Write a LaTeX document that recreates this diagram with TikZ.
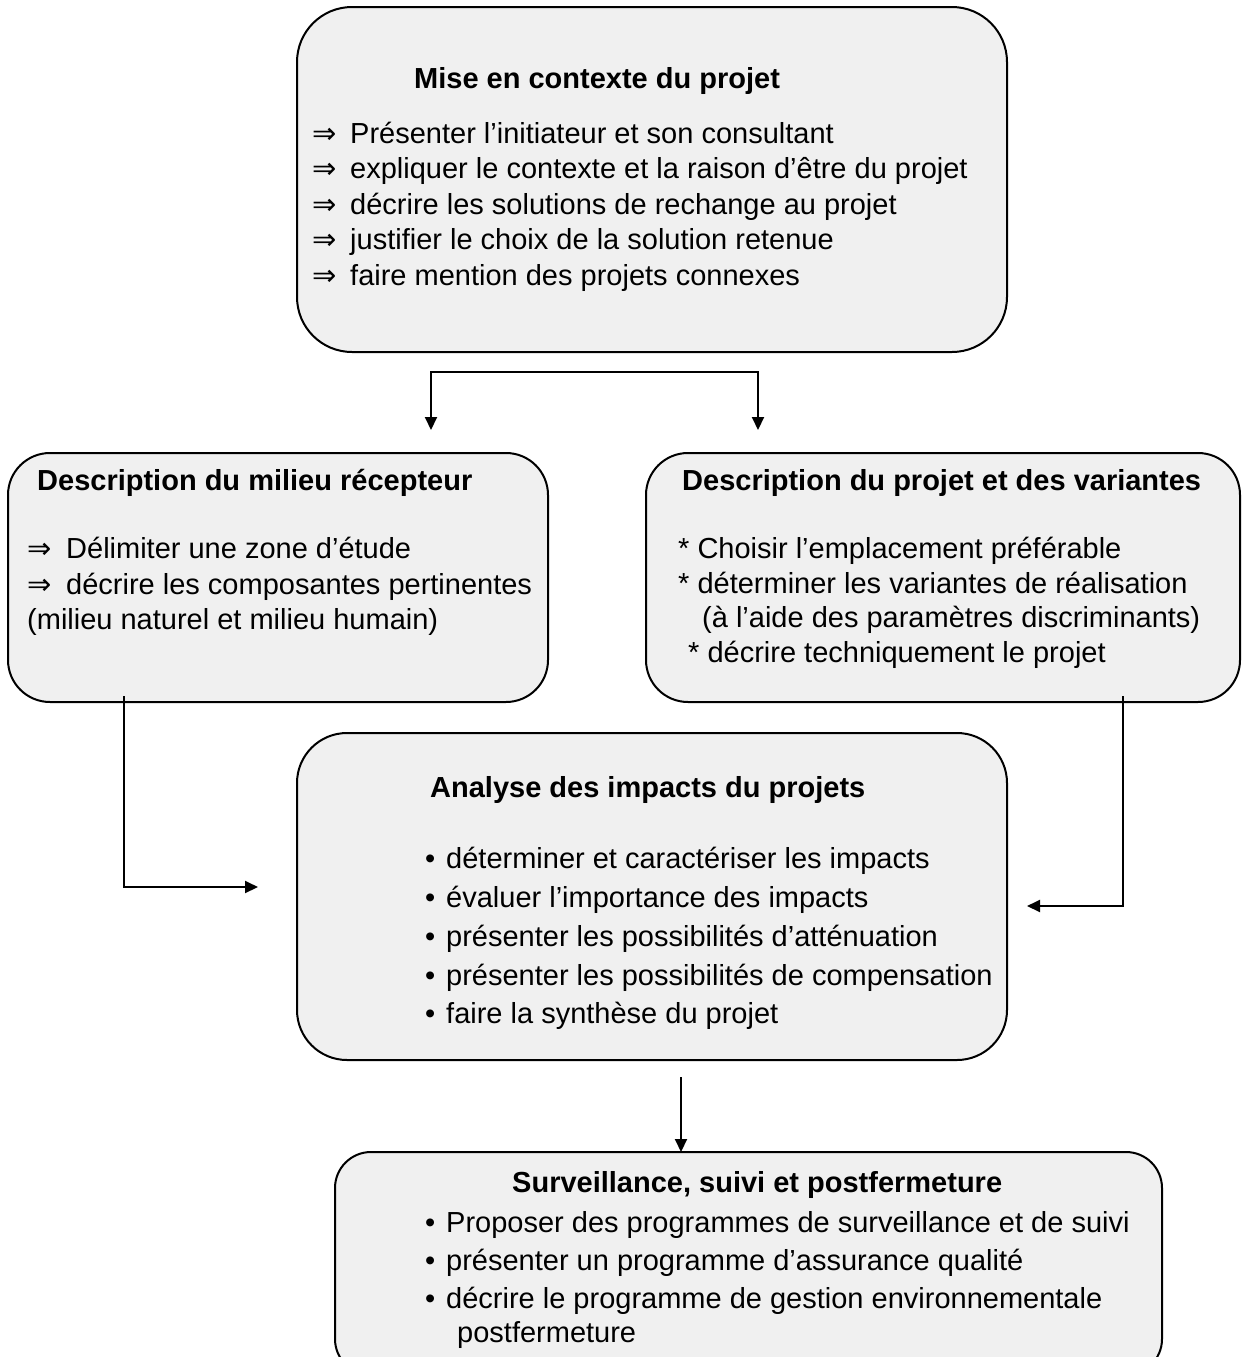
\documentclass[tikz,border=0pt]{standalone}
\usepackage{fontspec}
\setmainfont{Liberation Sans}
\newfontfamily\symfont{DejaVu Sans}
\usetikzlibrary{arrows.meta}
\definecolor{boxgray}{RGB}{240,240,240}
\newcommand{\darr}[1]{\makebox[#1][l]{{\symfont ⇒}}}
\newcommand{\bul}{\makebox[21pt][l]{\textbullet}}
\begin{document}
\begin{tikzpicture}[x=1pt,y=-1pt,
  box/.style={draw=black, line width=2pt, fill=boxgray, rounded corners=#1, inner sep=0pt, outer sep=0pt},
  txt/.style={anchor=base west, inner sep=0pt, font=\fontsize{29}{36}\selectfont},
  ttl/.style={anchor=base west, inner sep=0pt, font=\fontsize{29}{36}\selectfont\bfseries},
  ln/.style={line width=2pt},
  tip/.tip={Triangle[length=13pt,width=12pt]},
  arr/.style={line width=2pt, -tip}]
\clip (0,0) rectangle (1243,1357);
\fill[white] (0,0) rectangle (1243,1357);

% boxes
\node[box=55pt, minimum width=710pt, minimum height=345pt] (topbox) at (652,179.5) {};
\node[box=42pt, minimum width=540pt, minimum height=249pt] (leftbox) at (278,577.5) {};
\node[box=42pt, minimum width=594pt, minimum height=249pt] (rightbox) at (943,577.5) {};
\node[box=50pt, minimum width=710pt, minimum height=327pt] (midbox) at (652,896.5) {};
\node[box=36pt, minimum width=827pt, minimum height=223pt] (botbox) at (748.5,1263.5) {};

% top box text
\node[ttl] (t0) at (414,88) {Mise en contexte du projet};
\node[txt] (t1) at (312,143) {\darr{38pt}Présenter l’initiateur et son consultant};
\node[txt] (t2) at (312,178.5) {\darr{38pt}expliquer le contexte et la raison d’être du projet};
\node[txt] (t3) at (312,214) {\darr{38pt}décrire les solutions de rechange au projet};
\node[txt] (t4) at (312,249.5) {\darr{38pt}justifier le choix de la solution retenue};
\node[txt] (t5) at (312,285) {\darr{38pt}faire mention des projets connexes};

% left box text
\node[ttl] (l0) at (37,490) {Description du milieu récepteur};
\node[txt] (l1) at (27,558) {\darr{39pt}Délimiter une zone d’étude};
\node[txt] (l2) at (27,594) {\darr{39pt}décrire les composantes pertinentes};
\node[txt] (l3) at (27,629) {(milieu naturel et milieu humain)};

% right box text
\node[ttl] (r0) at (682,490) {Description du projet et des variantes};
\node[txt] (r1) at (678,558) {* Choisir l’emplacement préférable};
\node[txt] (r2) at (678,593) {* déterminer les variantes de réalisation};
\node[txt] (r3) at (702,627) {(à l’aide des paramètres discriminants)};
\node[txt] (r4) at (688,662) {* décrire techniquement le projet};

% middle box text
\node[ttl] (m0) at (430,797) {Analyse des impacts du projets};
\node[txt] (m1) at (425,868) {\bul déterminer et caractériser les impacts};
\node[txt] (m2) at (425,907) {\bul évaluer l’importance des impacts};
\node[txt] (m3) at (425,946) {\bul présenter les possibilités d’atténuation};
\node[txt] (m4) at (425,985) {\bul présenter les possibilités de compensation};
\node[txt] (m5) at (425,1023) {\bul faire la synthèse du projet};

% bottom box text
\node[ttl] (b0) at (512,1192) {Surveillance, suivi et postfermeture};
\node[txt] (b1) at (425,1232) {\bul Proposer des programmes de surveillance et de suivi};
\node[txt] (b2) at (425,1270) {\bul présenter un programme d’assurance qualité};
\node[txt] (b3) at (425,1308) {\bul décrire le programme de gestion environnementale};
\node[txt] (b4) at (457,1342) {postfermeture};

% connectors
\coordinate (splitL) at (431,430);
\coordinate (splitJ) at (758,372);
\coordinate (splitR) at (758,430);
\draw[ln, tip-tip] (splitL) |- (splitJ) -- (splitR);

\coordinate (lstart) at (124,696);
\coordinate (lend) at (258,887);
\draw[arr] (lstart) |- (lend);

\coordinate (rstart) at (1123,696);
\coordinate (rend) at (1027,906);
\draw[arr] (rstart) |- (rend);

\coordinate (mstart) at (681,1077);
\draw[arr] (mstart) -- (mstart |- botbox.north);
\end{tikzpicture}
\end{document}
